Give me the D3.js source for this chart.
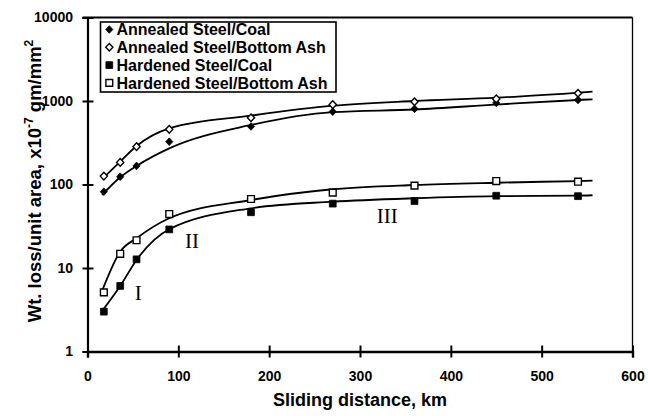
<!DOCTYPE html>
<html><head><meta charset="utf-8">
<script src="https://cdn.jsdelivr.net/npm/d3@7"></script>
<style>
html,body{margin:0;padding:0;background:#fff;}
svg{display:block;font-family:"Liberation Sans",Arial,sans-serif;}
</style></head>
<body><svg id="chart" width="648" height="416"></svg>
<script>
// ---- data ----
const distance = [18, 36, 54, 90, 180, 270, 360, 450, 540];
const annealedCoal = [82, 124, 167, 326, 495, 745, 805, 950, 1028];
const annealedAsh = [126, 184, 284, 458, 631, 905, 981, 1060, 1237];
const hardenedCoal = [3.0, 6.1, 12.7, 29.0, 46.5, 59, 63.4, 73.4, 72.5];
const hardenedAsh = [5.1, 14.8, 21.5, 44.3, 67, 80, 97, 110, 108];
// fitted trend curves as drawn in the figure
const fitDistance = [16, 36, 54, 90, 180, 270, 360, 450, 540, 556];
const annealedCoalFit = [75, 122, 167, 271, 516, 735, 791, 906, 1028, 1047];
const annealedAshFit = [116, 188, 289, 471, 667, 878, 1000, 1096, 1258, 1292];
const hardenedCoalFit = [3.05, 6.09, 12.5, 29.1, 51.9, 62.2, 68.4, 72.5, 73.6, 74.3];
const hardenedAshFit = [5.3, 15.7, 22.7, 39.4, 65.2, 87.7, 98.6, 105, 110, 111];
const seriesNames = ["Annealed Steel/Coal", "Annealed Steel/Bottom Ash", "Hardened Steel/Coal", "Hardened Steel/Bottom Ash"];
const xTicks = [0, 100, 200, 300, 400, 500, 600];
const yTicks = [1, 10, 100, 1000, 10000];
const regionLabels = ["I", "II", "III"];
const regionX = [56, 115, 330];
const regionY = [4.14, 17.4, 34.6];

const svg = d3.select("#chart");
const x = d3.scaleLinear().domain([0, 600]).range([87.5, 632.5]);
const y = d3.scaleLog().domain([1, 10000]).range([351.5, 17.5]);

const series = [
  {name: seriesNames[0], vals: annealedCoal, fit: annealedCoalFit, shape: "diamond", filled: true},
  {name: seriesNames[1], vals: annealedAsh, fit: annealedAshFit, shape: "diamond", filled: false},
  {name: seriesNames[2], vals: hardenedCoal, fit: hardenedCoalFit, shape: "square", filled: true},
  {name: seriesNames[3], vals: hardenedAsh, fit: hardenedAshFit, shape: "square", filled: false}
];

// frame (top and right)
svg.append("line").attr("x1", x(0) - 5).attr("x2", x(600)).attr("y1", y(10000)).attr("y2", y(10000))
  .attr("stroke", "#000").attr("stroke-width", 2);
svg.append("line").attr("x1", x(600)).attr("x2", x(600)).attr("y1", y(10000)).attr("y2", y(1))
  .attr("stroke", "#000").attr("stroke-width", 1.3);

// axes
const yAxis = svg.append("g").attr("transform", `translate(${x(0)},0)`)
  .call(d3.axisLeft(y).tickValues(yTicks).tickFormat(d3.format("d")).tickSize(5).tickPadding(10));
yAxis.select(".domain").attr("stroke-width", 2.2);
yAxis.selectAll(".tick line").attr("x2", 6).attr("x1", -5).attr("stroke-width", 2);
yAxis.selectAll(".tick text").attr("font-size", 14).attr("font-weight", "bold")
  .attr("font-family", "'Liberation Sans',Arial,sans-serif").attr("fill", "#000").attr("x", -14.5);

const xAxis = svg.append("g").attr("transform", `translate(0,${y(1)})`)
  .call(d3.axisBottom(x).tickValues(xTicks).tickFormat(d3.format("d")).tickSize(6).tickPadding(14));
xAxis.select(".domain").attr("stroke-width", 2.4);
xAxis.selectAll(".tick line").attr("y1", -6).attr("y2", 6).attr("stroke-width", 2);
xAxis.selectAll(".tick text").attr("font-size", 14).attr("font-weight", "bold")
  .attr("font-family", "'Liberation Sans',Arial,sans-serif").attr("fill", "#000");

// axis titles
svg.append("text").attr("x", 360).attr("y", 406).attr("text-anchor", "middle")
  .attr("font-size", 18).attr("font-weight", "bold").text("Sliding distance, km");
const yt = svg.append("text").attr("transform", "translate(41,181) rotate(-90)")
  .attr("text-anchor", "middle").attr("font-size", 18.5).attr("font-weight", "bold");
yt.append("tspan").text("Wt. loss/unit area, x10");
yt.append("tspan").attr("font-size", 12).attr("dy", -8).text("-7");
yt.append("tspan").attr("dy", 8).text(" gm/mm");
yt.append("tspan").attr("font-size", 12).attr("dy", -8).text("2");

// fit curves
const line = d3.line().x((d, i) => x(fitDistance[i])).y(d => y(d)).curve(d3.curveMonotoneX);
series.forEach(s => {
  svg.append("path").attr("d", line(s.fit)).attr("fill", "none").attr("stroke", "#000").attr("stroke-width", 1.8);
});

// markers
function markerPath(shape) {
  if (shape === "diamond") return "M0,-3.8L3.6,0L0,3.8L-3.6,0Z";
  return "M-3.4,-3.4H3.4V3.4H-3.4Z";
}
series.forEach(s => {
  svg.append("g").selectAll("path").data(s.vals).join("path")
    .attr("transform", (d, i) => `translate(${x(distance[i])},${y(d)})`)
    .attr("d", markerPath(s.shape))
    .attr("fill", s.filled ? "#000" : "#fff")
    .attr("stroke", "#000").attr("stroke-width", s.filled ? 0.8 : 1.4);
});

// region labels
svg.append("g").selectAll("text").data(regionLabels).join("text")
  .attr("x", (d, i) => x(regionX[i])).attr("y", (d, i) => y(regionY[i]))
  .attr("text-anchor", "middle").attr("font-family", "'Liberation Serif','Times New Roman',serif")
  .attr("font-size", 21).attr("fill", "#000").text(d => d);

// legend
const lg = svg.append("g");
lg.append("rect").attr("x", 100.5).attr("y", 22).attr("width", 235.5).attr("height", 70)
  .attr("fill", "#fff").attr("stroke", "#000").attr("stroke-width", 1.6);
series.forEach((s, i) => {
  const cy = 29.5 + i * 17.8;
  lg.append("path").attr("transform", `translate(109.3,${cy})`).attr("d", markerPath(s.shape))
    .attr("fill", s.filled ? "#000" : "#fff").attr("stroke", "#000").attr("stroke-width", s.filled ? 0.8 : 1.4);
  lg.append("text").attr("x", 116.5).attr("y", cy + 5.8).attr("font-size", 16).attr("font-weight", "bold").text(s.name);
});
</script></body></html>
